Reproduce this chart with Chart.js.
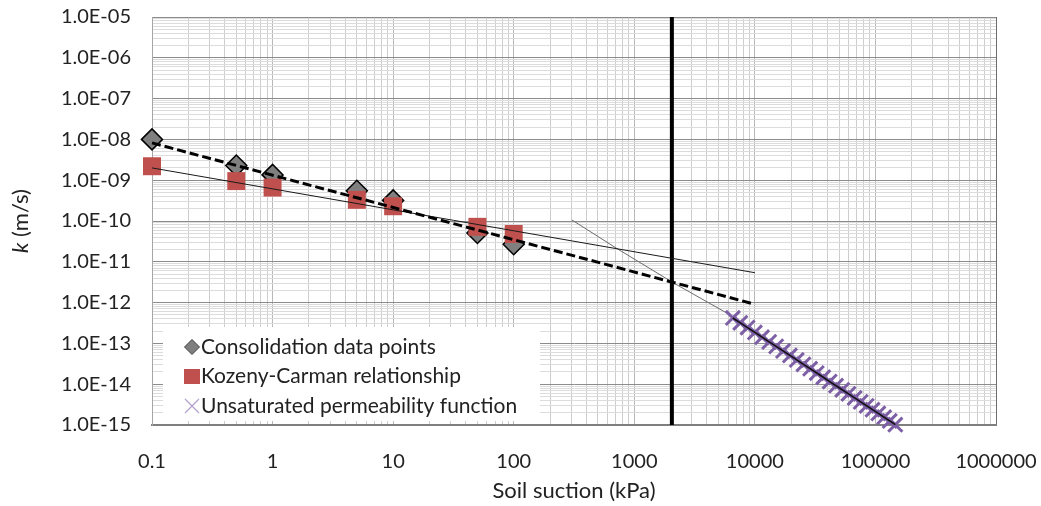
<!DOCTYPE html>
<html>
<head>
<meta charset="utf-8">
<script src="https://cdn.jsdelivr.net/npm/chart.js@4/dist/chart.umd.min.js"></script>
<style>
  html, body { margin: 0; padding: 0; background: #fff; }
</style>
</head>
<body>
<canvas id="kChart" width="1041" height="506"></canvas>
<script>
/* ── DADOS ── */
const xTickLabels = ['0.1', '1', '10', '100', '1000', '10000', '100000', '1000000'];
const yTickLabels = ['1.0E-15', '1.0E-14', '1.0E-13', '1.0E-12', '1.0E-11', '1.0E-10',
                     '1.0E-09', '1.0E-08', '1.0E-07', '1.0E-06', '1.0E-05'];

const suction = [0.1, 0.5, 1, 5, 10, 50, 100];
const consolidationK = [1.0e-8, 2.3e-9, 1.35e-9, 5.5e-10, 3.2e-10, 5.1e-11, 2.7e-11];
const kozenyK = [2.2e-9, 9.5e-10, 6.6e-10, 3.3e-10, 2.3e-10, 7.2e-11, 4.8e-11];

// power trendlines (end points)
const consTrendX = [0.1, 10000];
const consTrendK = [8.2e-9, 9.1e-13];
const kozTrendX = [0.1, 10000];
const kozTrendK = [2.0e-9, 5.4e-12];

// unsaturated permeability function
const unsatCurveX = [304, 713, 2130, 5820, 6570];
const unsatCurveK = [1.06e-10, 2.14e-11, 3.0e-12, 5.6e-13, 4.2e-13];
const unsatX = [6570, 7570, 8700, 10000, 11470, 13140, 15020, 17130, 19540, 22260,
                25290, 28740, 32610, 36920, 41720, 47130, 53060, 59740, 67240, 75420,
                84530, 94620, 105700, 118100, 131400, 146200];
const unsatK = [4.2e-13, 3.19e-13, 2.44e-13, 1.86e-13, 1.42e-13, 1.09e-13, 8.45e-14, 6.55e-14,
                5.07e-14, 3.94e-14, 3.07e-14, 2.40e-14, 1.88e-14, 1.48e-14, 1.16e-14, 9.18e-15,
                7.30e-15, 5.80e-15, 4.61e-15, 3.69e-15, 2.96e-15, 2.38e-15, 1.92e-15, 1.55e-15,
                1.26e-15, 1.02e-15];

// vertical marker line
const markerX = [2050, 2050];
const markerK = [1e-5, 1e-15];

const toPoints = (xs, ys) => xs.map((x, i) => ({ x, y: ys[i] }));

/* ── TICKS ── */
function logTicks(labels) {
    const ticks = [];
    labels.forEach((lab, i) => {
        const v = Number(lab);
        ticks.push({ value: v, major: true, text: lab });
        if (i < labels.length - 1) {
            for (let m = 2; m <= 9; m++) ticks.push({ value: v * m, major: false });
        }
    });
    return ticks;
}

const FONT = 'Lato';
const FSIZE = 20;
const TSIZE = 22;
const TEXT = '#222';

/* ── PLUGINS ── */
const yTitle = {
    id: 'yTitle',
    afterDraw(chart) {
        const c = chart.ctx;
        const a = chart.chartArea;
        c.save();
        c.translate(21, (a.top + a.bottom) / 2);
        c.rotate(-Math.PI / 2);
        c.fillStyle = TEXT;
        c.textBaseline = 'middle';
        c.font = 'italic ' + TSIZE + 'px ' + FONT;
        const w1 = c.measureText('k').width;
        c.font = TSIZE + 'px ' + FONT;
        const w2 = c.measureText(' (m/s)').width;
        const x0 = -(w1 + w2) / 2;
        c.font = 'italic ' + TSIZE + 'px ' + FONT;
        c.fillText('k', x0, 0);
        c.font = TSIZE + 'px ' + FONT;
        c.fillText(' (m/s)', x0 + w1, 0);
        c.restore();
    }
};

const boxLegend = {
    id: 'boxLegend',
    afterDraw(chart) {
        const c = chart.ctx;
        const items = chart.data.datasets.filter(d => d.inLegend).reverse();
        c.save();
        c.fillStyle = '#fff';
        c.fillRect(163, 327, 377, 94);
        c.font = '21px ' + FONT;
        c.textBaseline = 'middle';
        items.forEach((d, i) => {
            const y = 347 + i * 29.5;
            const x = 192;
            if (d.pointStyle === 'rectRot') {
                c.beginPath();
                c.moveTo(x, y - 7.5); c.lineTo(x + 7.5, y);
                c.lineTo(x, y + 7.5); c.lineTo(x - 7.5, y);
                c.closePath();
                c.fillStyle = d.backgroundColor;
                c.fill();
                c.strokeStyle = '#404040';
                c.lineWidth = 1;
                c.stroke();
            } else if (d.pointStyle === 'rect') {
                c.fillStyle = d.backgroundColor;
                c.fillRect(x - 8, y - 7.5, 16, 15);
            } else {
                c.strokeStyle = '#b1a0cc';
                c.lineWidth = 1.2;
                c.beginPath();
                c.moveTo(x - 7, y - 7); c.lineTo(x + 7, y + 7);
                c.moveTo(x + 7, y - 7); c.lineTo(x - 7, y + 7);
                c.stroke();
            }
            c.fillStyle = TEXT;
            c.fillText(d.label, 201, y);
        });
        c.restore();
    }
};

/* ── GRÁFICO ── */
const ctx = document.getElementById('kChart');

new Chart(ctx, {
    type: 'scatter',
    data: {
        datasets: [
            {
                label: 'Consolidation trend',
                data: toPoints(consTrendX, consTrendK),
                showLine: true,
                borderColor: '#000',
                borderWidth: 3,
                borderDash: [9, 4],
                pointRadius: 0,
                order: 0
            },
            {
                label: 'Kozeny-Carman trend',
                data: toPoints(kozTrendX, kozTrendK),
                showLine: true,
                borderColor: '#1a1a1a',
                borderWidth: 1,
                pointRadius: 0,
                order: 1
            },
            {
                label: 'Unsaturated line',
                data: toPoints(unsatX, unsatK),
                showLine: true,
                borderColor: '#111',
                borderWidth: 1.6,
                pointRadius: 0,
                order: 2
            },
            {
                label: 'Unsaturated permeability function',
                inLegend: true,
                data: toPoints(unsatX, unsatK),
                pointStyle: 'crossRot',
                pointRadius: 10,
                pointBorderColor: '#7d5fa6',
                pointBorderWidth: 3,
                backgroundColor: '#8064a2',
                order: 3
            },
            {
                label: 'Unsaturated curve',
                data: toPoints(unsatCurveX, unsatCurveK),
                showLine: true,
                borderColor: '#6b6b6b',
                borderWidth: 1,
                pointRadius: 0,
                order: 4
            },
            {
                label: 'Marker',
                data: toPoints(markerX, markerK),
                showLine: true,
                borderColor: '#000',
                borderWidth: 4,
                pointRadius: 0,
                order: 5
            },
            {
                label: 'Kozeny-Carman relationship',
                inLegend: true,
                data: toPoints(suction, kozenyK),
                pointStyle: 'rect',
                pointRadius: 12.7,
                backgroundColor: '#c0504d',
                pointBorderWidth: 0,
                order: 6
            },
            {
                label: 'Consolidation data points',
                inLegend: true,
                data: toPoints(suction, consolidationK),
                pointStyle: 'rectRot',
                pointRadius: 10.5,
                backgroundColor: '#7f7f7f',
                pointBorderColor: '#000',
                pointBorderWidth: 1.5,
                order: 7
            }
        ].map(d => Object.assign({ clip: false }, d))
    },
    options: {
        responsive: false,
        animation: false,
        events: [],
        layout: { padding: { top: 17, right: 45, bottom: 0, left: 0 } },
        plugins: {
            legend: { display: false },
            tooltip: { enabled: false }
        },
        scales: {
            x: {
                type: 'logarithmic',
                position: 'bottom',
                min: 0.1,
                max: 1000000,
                afterBuildTicks: s => { s.ticks = logTicks(xTickLabels); },
                afterFit: s => {
                    s.height = 81;
                    s.paddingLeft = 0;
                    s.paddingRight = 0;
                },
                ticks: {
                    autoSkip: false,
                    maxRotation: 0,
                    padding: 25,
                    color: TEXT,
                    font: { family: FONT, size: FSIZE },
                    callback: (v, i, ticks) => ticks[i].major ? ticks[i].text : ''
                },
                grid: {
                    drawTicks: false,
                    color: c => {
                        if (!c.tick) return '#c8c8c8';
                        if (c.tick.value === 1000000) return '#6e6e6e';
                        return c.tick.major ? '#b8b8b8' : '#cdcdcd';
                    }
                },
                border: { color: '#7f7f7f', width: 2 },
                title: {
                    display: true,
                    text: 'Soil suction (kPa)',
                    color: TEXT,
                    font: { family: FONT, size: TSIZE },
                    padding: { top: 0, bottom: 2 }
                }
            },
            y: {
                type: 'logarithmic',
                min: 1e-15,
                max: 1e-5,
                afterBuildTicks: s => { s.ticks = logTicks(yTickLabels); },
                afterFit: s => {
                    s.width = 152;
                    s.paddingTop = 0;
                    s.paddingBottom = 0;
                },
                ticks: {
                    autoSkip: false,
                    padding: 21,
                    color: TEXT,
                    font: { family: FONT, size: FSIZE },
                    callback: (v, i, ticks) => ticks[i].major ? ticks[i].text : ''
                },
                grid: {
                    drawTicks: false,
                    color: c => (c.tick && c.tick.major) ? '#8c8c8c' : '#dcdcdc'
                },
                border: { color: '#a6a6a6', width: 1 }
            }
        }
    },
    plugins: [yTitle, boxLegend]
});
</script>
</body>
</html>
